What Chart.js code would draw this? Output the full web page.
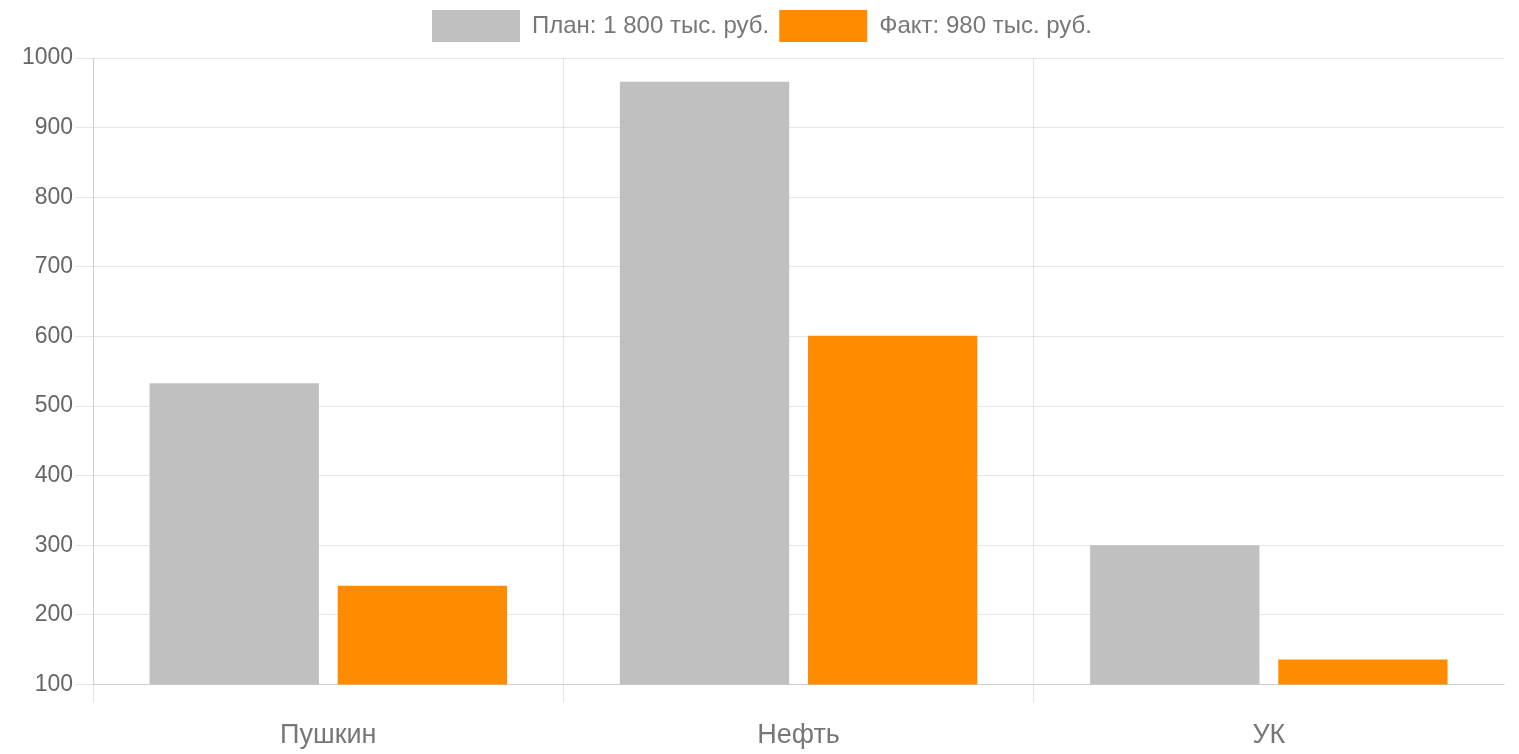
<!DOCTYPE html>
<html>
<head>
<meta charset="utf-8">
<script src="https://cdn.jsdelivr.net/npm/chart.js@4/dist/chart.umd.min.js"></script>
<style>
  html, body { margin: 0; padding: 0; background: #fff; }
  #wrap { width: 1519px; height: 754px; }
</style>
</head>
<body>
<div id="wrap"><canvas id="chartCanvas"></canvas></div>
<script>
const categories = ['Пушкин', 'Нефть', 'УК'];
const planValues = [533, 966, 300];
const factValues = [242, 601, 136];
const planLabel = 'План: 1 800 тыс. руб.';
const factLabel = 'Факт: 980 тыс. руб.';
const yMin = 100, yMax = 1000, yStep = 100;

Chart.defaults.font.family = '"Liberation Sans", Arial, sans-serif';
Chart.defaults.color = '#666';

const gridColor = 'rgba(0,0,0,0.1)';

// a bit of extra space under the legend
const legendMargin = {
  id: 'legendMargin',
  beforeInit(chart) {
    const fit = chart.legend.fit;
    chart.legend.fit = function () {
      fit.bind(chart.legend)();
      this.height += 6;
    };
  }
};

const ctx = document.getElementById('chartCanvas').getContext('2d');
new Chart(ctx, {
  type: 'bar',
  data: {
    labels: categories,
    datasets: [
      { label: planLabel, data: planValues, backgroundColor: '#c0c0c0' },
      { label: factLabel, data: factValues, backgroundColor: '#ff8c00' }
    ]
  },
  options: {
    responsive: true,
    maintainAspectRatio: false,
    animation: false,
    layout: { padding: { left: 20, right: 15, top: 0, bottom: -15 } },
    plugins: {
      legend: {
        labels: { boxWidth: 88, boxHeight: 32, font: { size: 24 }, padding: 10, color: '#777' }
      },
      tooltip: { enabled: false }
    },
    scales: {
      x: {
        grid: {
          offset: true,
          tickLength: 18,
          // no line on the right edge of the plot
          color: c => c.tick ? gridColor : 'transparent'
        },
        ticks: { font: { size: 27 }, padding: 17, color: '#777' }
      },
      y: {
        min: yMin,
        max: yMax,
        grid: { tickLength: 18, color: gridColor },
        ticks: { stepSize: yStep, font: { size: 23 }, padding: 2, color: '#666', callback: v => String(v) }
      }
    }
  },
  plugins: [legendMargin]
});
</script>
</body>
</html>
